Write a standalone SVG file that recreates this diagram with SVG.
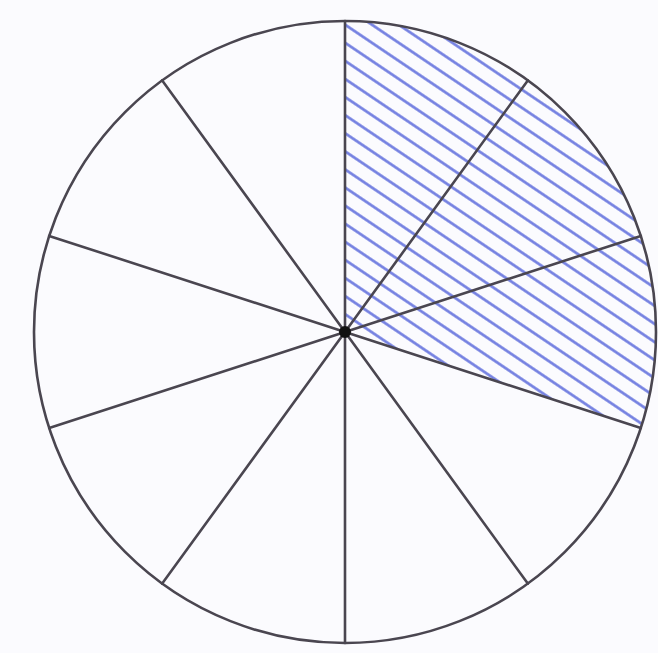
<svg xmlns="http://www.w3.org/2000/svg" width="658" height="653" viewBox="0 0 658 653">
<style>
.r{stroke:#4a4650;stroke-width:2.6;fill:none;stroke-linecap:round}
.h{stroke:#6f7ce0;stroke-width:2.6}
</style>
<defs>
<pattern id="hatch" patternUnits="userSpaceOnUse" width="15" height="15" patternTransform="rotate(34)">
<line class="h" x1="0" y1="7.5" x2="15" y2="7.5"/>
</pattern>
</defs>
<rect width="658" height="653" fill="#fbfbfe"/>
<g id="shaded">
<path d="M345,332 L345,21 A311,311 0 0 1 640.8,428.1 Z" fill="url(#hatch)"/>
</g>
<g id="circle">
<circle class="r" cx="345" cy="332" r="311"/>
</g>
<g id="connectors">
<line class="r" x1="345" y1="332" x2="345" y2="21"/>
<line class="r" x1="345" y1="332" x2="527.8" y2="80.4"/>
<line class="r" x1="345" y1="332" x2="640.8" y2="235.9"/>
<line class="r" x1="345" y1="332" x2="640.8" y2="428.1"/>
<line class="r" x1="345" y1="332" x2="527.8" y2="583.6"/>
<line class="r" x1="345" y1="332" x2="345" y2="643"/>
<line class="r" x1="345" y1="332" x2="162.2" y2="583.6"/>
<line class="r" x1="345" y1="332" x2="49.2" y2="428.1"/>
<line class="r" x1="345" y1="332" x2="49.2" y2="235.9"/>
<line class="r" x1="345" y1="332" x2="162.2" y2="80.4"/>
</g>
<g id="center">
<circle cx="345" cy="332" r="6" fill="#111"/>
</g>
</svg>
